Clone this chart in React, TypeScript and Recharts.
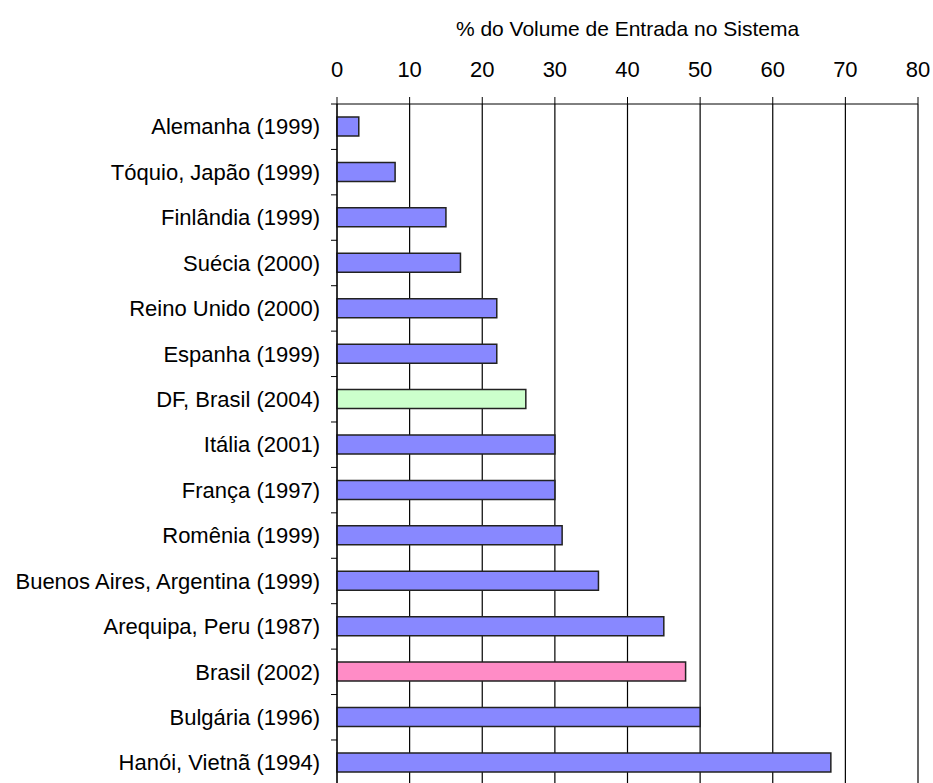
import { BarChart, Bar, XAxis, YAxis, CartesianGrid, Cell } from "recharts"

const categories = [
  "Alemanha (1999)",
  "Tóquio, Japão (1999)",
  "Finlândia (1999)",
  "Suécia (2000)",
  "Reino Unido (2000)",
  "Espanha (1999)",
  "DF, Brasil (2004)",
  "Itália (2001)",
  "França (1997)",
  "Romênia (1999)",
  "Buenos Aires, Argentina (1999)",
  "Arequipa, Peru (1987)",
  "Brasil (2002)",
  "Bulgária (1996)",
  "Hanói, Vietnã (1994)",
]

const values = [3, 8, 15, 17, 22, 22, 26, 30, 30, 31, 36, 45, 48, 50, 68]

const barColors = [
  "#8888ff", "#8888ff", "#8888ff", "#8888ff", "#8888ff", "#8888ff", "#ccffcc",
  "#8888ff", "#8888ff", "#8888ff", "#8888ff", "#8888ff", "#ff8cc6", "#8888ff", "#8888ff",
]

const xTicks = [0, 10, 20, 30, 40, 50, 60, 70, 80]

const data = categories.map((name, i) => ({ name, value: values[i] }))

const WIDTH = 933
const HEIGHT = 790
const TOP = 104
const BOTTOM = 4.6
const ROW = (HEIGHT - TOP - BOTTOM) / categories.length
const FONT = "'Liberation Sans', Arial, sans-serif"

const CategoryTick = (props: any) => {
  const { x, y, payload, index } = props
  const axisX = x + 17
  return (
    <g>
      <text x={x} y={y} dy="0.35em" textAnchor="end" fontSize={22} fontFamily={FONT} fill="#000">
        {payload.value}
      </text>
      {index === 0 && <line x1={axisX - 6} x2={axisX} y1={y - ROW / 2} y2={y - ROW / 2} stroke="#000" />}
      <line x1={axisX - 6} x2={axisX} y1={y + ROW / 2} y2={y + ROW / 2} stroke="#000" />
    </g>
  )
}

export default function App() {
  return (
    <div style={{ position: "absolute", left: 0, top: 0, width: WIDTH, height: 783, overflow: "hidden", background: "#fff" }}>
      <BarChart
        width={WIDTH}
        height={HEIGHT}
        data={data}
        layout="vertical"
        margin={{ top: 0, right: 15, left: 0, bottom: BOTTOM }}
        barSize={19}
      >
        <CartesianGrid horizontal={false} stroke="#000" strokeWidth={1.2} />
        <XAxis
          type="number"
          orientation="top"
          domain={[0, 80]}
          ticks={xTicks}
          height={TOP}
          interval={0}
          stroke="#000"
          tickSize={7}
          tickMargin={20}
          tick={{ fontSize: 22, fontFamily: FONT, fill: "#000" }}
          label={{
            value: "% do Volume de Entrada no Sistema",
            position: "insideTop",
            offset: 21,
            fontSize: 21,
            fontFamily: FONT,
            fill: "#000",
          }}
        />
        <YAxis
          type="category"
          dataKey="name"
          width={337}
          stroke="#000"
          tickSize={0}
          tickMargin={17}
          interval={0}
          tick={<CategoryTick />}
        />
        <Bar dataKey="value" stroke="#222" strokeWidth={1.5} isAnimationActive={false}>
          {data.map((d, i) => (
            <Cell key={d.name} fill={barColors[i]} />
          ))}
        </Bar>
      </BarChart>
    </div>
  )
}
